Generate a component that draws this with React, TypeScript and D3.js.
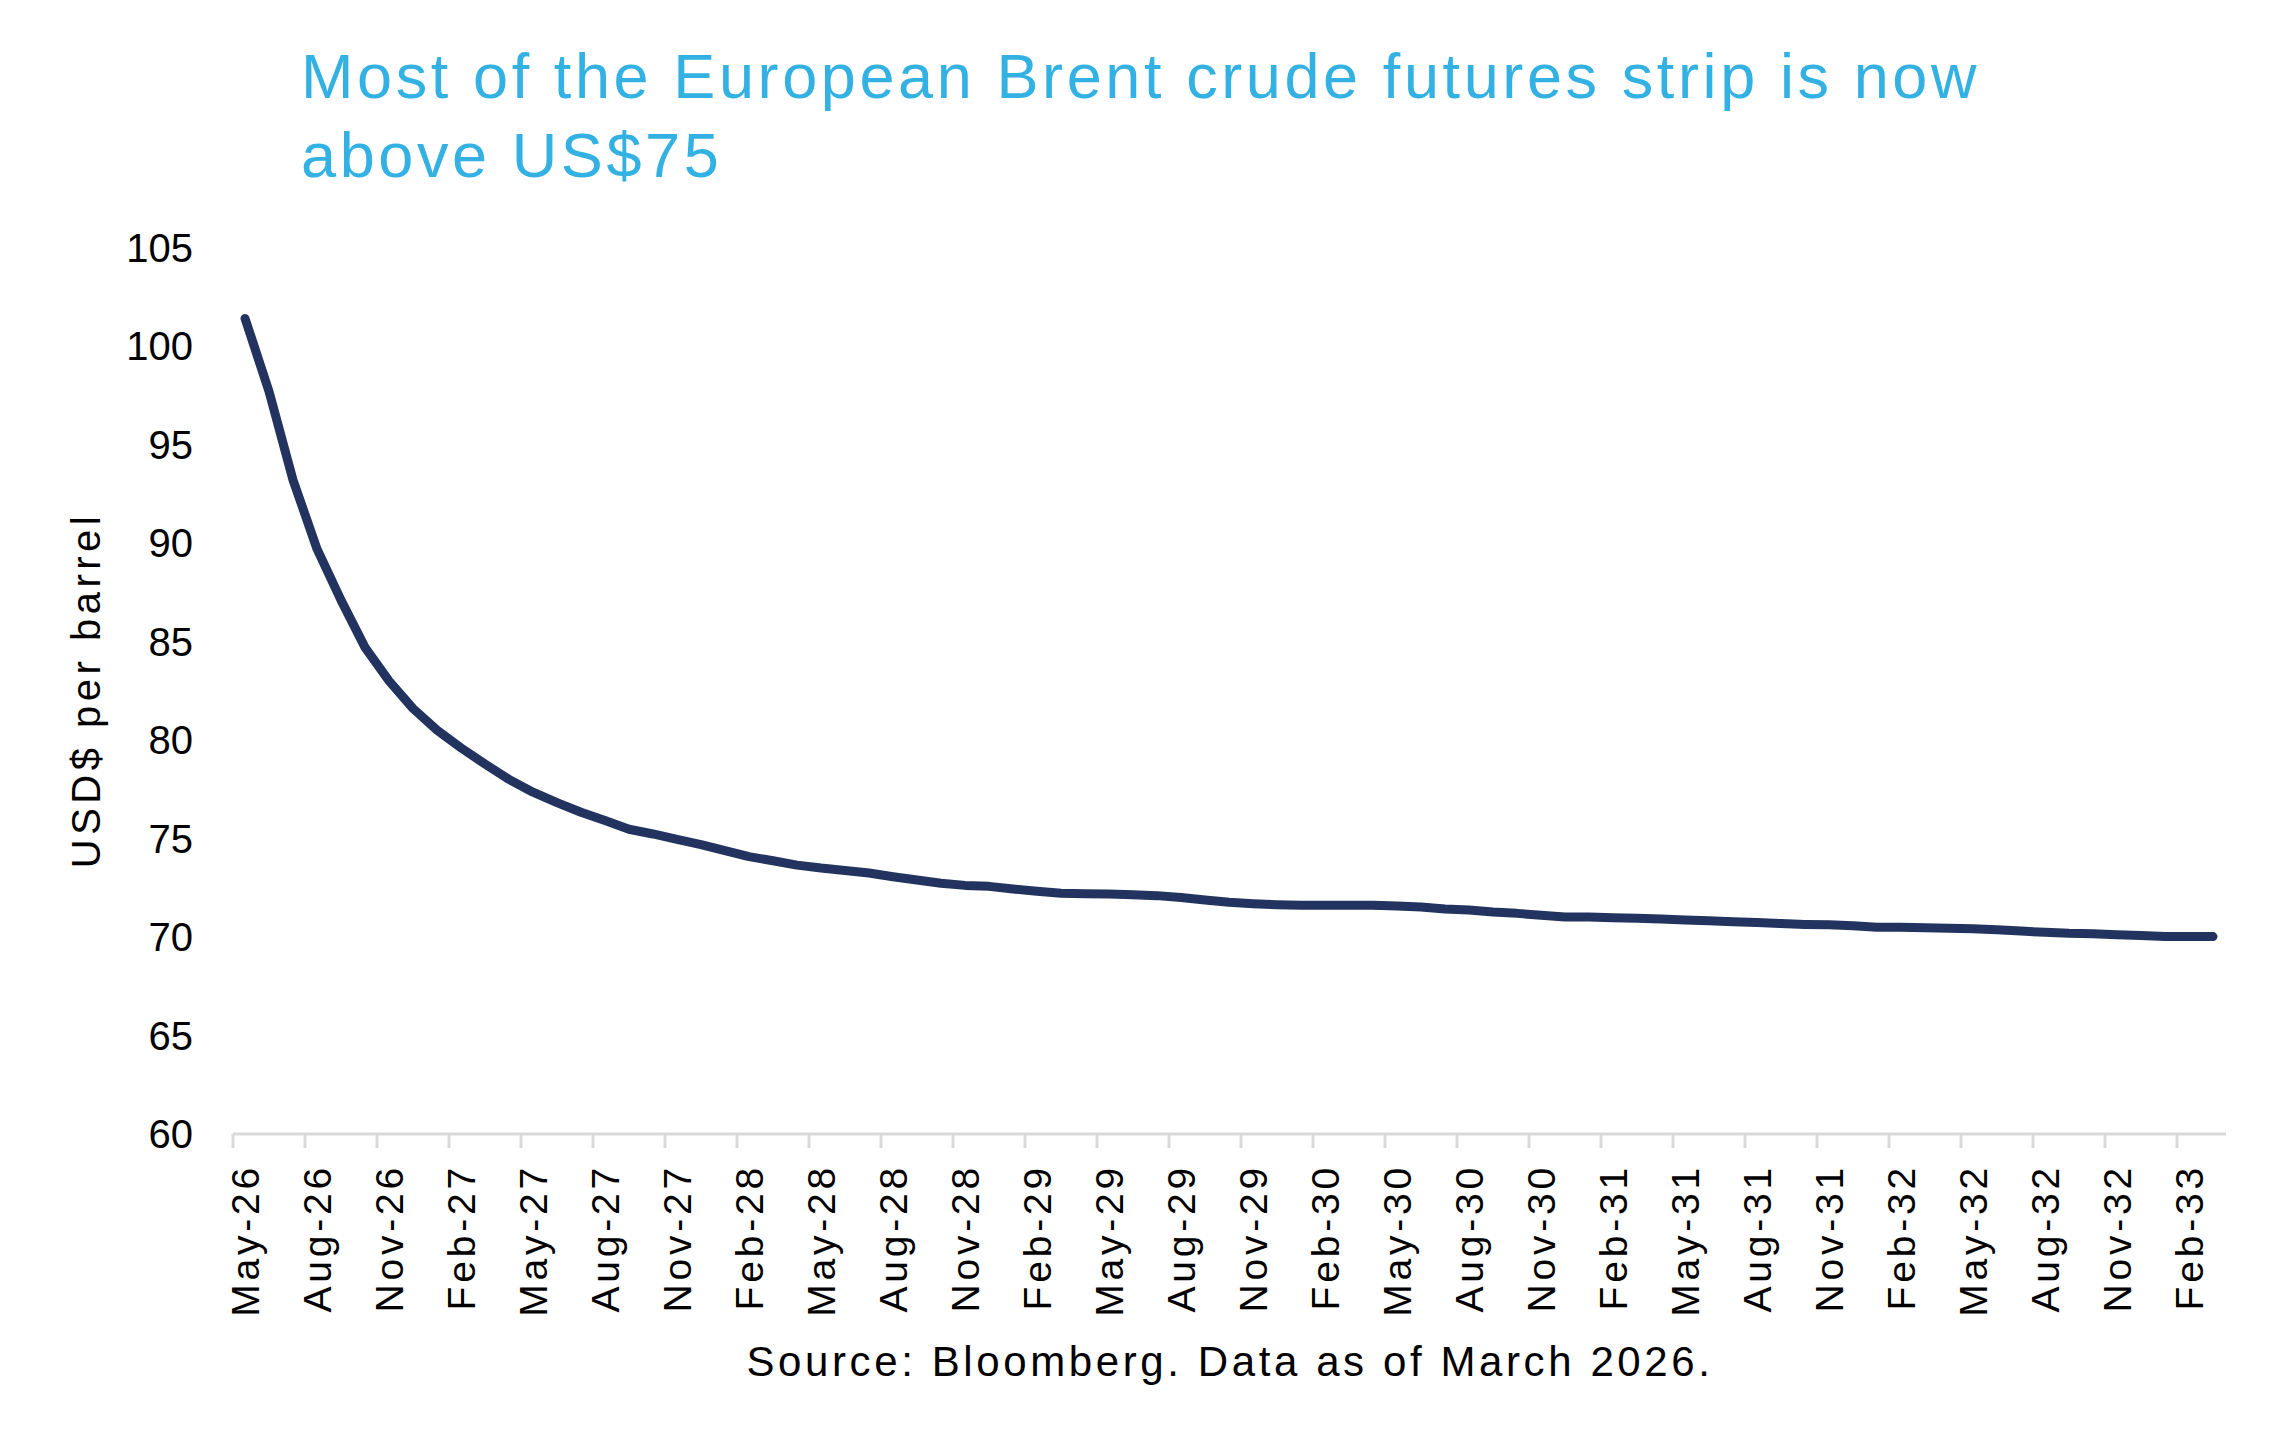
import * as d3 from 'd3'

// monthly contract months on the strip
const months = [
  'May-26','Jun-26','Jul-26','Aug-26','Sep-26','Oct-26','Nov-26','Dec-26',
  'Jan-27','Feb-27','Mar-27','Apr-27','May-27','Jun-27','Jul-27','Aug-27','Sep-27','Oct-27','Nov-27','Dec-27',
  'Jan-28','Feb-28','Mar-28','Apr-28','May-28','Jun-28','Jul-28','Aug-28','Sep-28','Oct-28','Nov-28','Dec-28',
  'Jan-29','Feb-29','Mar-29','Apr-29','May-29','Jun-29','Jul-29','Aug-29','Sep-29','Oct-29','Nov-29','Dec-29',
  'Jan-30','Feb-30','Mar-30','Apr-30','May-30','Jun-30','Jul-30','Aug-30','Sep-30','Oct-30','Nov-30','Dec-30',
  'Jan-31','Feb-31','Mar-31','Apr-31','May-31','Jun-31','Jul-31','Aug-31','Sep-31','Oct-31','Nov-31','Dec-31',
  'Jan-32','Feb-32','Mar-32','Apr-32','May-32','Jun-32','Jul-32','Aug-32','Sep-32','Oct-32','Nov-32','Dec-32',
  'Jan-33','Feb-33','Mar-33'
]

// Brent futures settle, USD per barrel
const brent = [
  101.4, 97.7, 93.2, 89.7, 87.1, 84.7, 83.0, 81.6,
  80.5, 79.6, 78.78, 78.0, 77.35, 76.82, 76.33, 75.91, 75.47, 75.23, 74.96, 74.69,
  74.38, 74.08, 73.87, 73.65, 73.5, 73.38, 73.25, 73.06, 72.89, 72.73, 72.62, 72.57,
  72.44, 72.32, 72.22, 72.2, 72.18, 72.15, 72.1, 72.0, 71.88, 71.76, 71.69, 71.64,
  71.61, 71.61, 71.61, 71.61, 71.57, 71.52, 71.42, 71.37, 71.27, 71.2, 71.1, 71.02,
  71.02, 70.98, 70.95, 70.91, 70.86, 70.83, 70.78, 70.73, 70.68, 70.64, 70.62, 70.57,
  70.49, 70.49, 70.47, 70.44, 70.42, 70.37, 70.3, 70.24, 70.19, 70.17, 70.12, 70.07,
  70.02, 70.02, 70.02
]

const yTicks = [60, 65, 70, 75, 80, 85, 90, 95, 100, 105]
const titleLines = ['Most of the European Brent crude futures strip is now', 'above US$75']
const yLabel = 'USD$ per barrel'
const source = 'Source: Bloomberg. Data as of March 2026.'

const W = 2278
const H = 1447
const font = '"Liberation Sans", Arial, sans-serif'

export default function App() {
  const x = d3.scaleBand<string>().domain(months).range([233, 2225]).padding(0)
  const y = d3.scaleLinear().domain([60, 105]).range([1134, 247.5])
  const cx = (m: string) => (x(m) as number) + x.bandwidth() / 2

  const line = d3.line<number>()
    .x((d, i) => cx(months[i]))
    .y(d => y(d))

  const tickMonths = months.filter((m, i) => i % 3 === 0)

  return (
    <svg width={W} height={H} style={{ position: 'absolute', left: 0, top: 0, display: 'block', background: '#fff' }}>
      {titleLines.map((t, i) => (
        <text key={t} x={301} y={98 + i * 78.5} fill="#33B1E2" fontFamily={font} fontSize={63} letterSpacing={3.6}>{t}</text>
      ))}

      {yTicks.map(v => (
        <text key={v} x={193} y={y(v)} dy="0.35em" textAnchor="end" fontFamily={font} fontSize={40} fill="#000">{v}</text>
      ))}

      <text transform={`translate(100,${690}) rotate(-90)`} textAnchor="middle" fontFamily={font} fontSize={40} letterSpacing={4.5} fill="#000">{yLabel}</text>

      <line x1={233} x2={2226} y1={y(60)} y2={y(60)} stroke="#D9D9D9" strokeWidth={3} />
      {tickMonths.map(m => (
        <line key={m} x1={x(m)} x2={x(m)} y1={y(60)} y2={y(60) + 14} stroke="#D9D9D9" strokeWidth={3} />
      ))}
      {tickMonths.map(m => (
        <text key={m} transform={`translate(${cx(m)},1164) rotate(-90)`} dy="0.35em" textAnchor="end" fontFamily={font} fontSize={39} letterSpacing={3.8} fill="#000">{m}</text>
      ))}

      <path d={line(brent) as string} fill="none" stroke="#22335F" strokeWidth={9} strokeLinecap="round" strokeLinejoin="round" />

      <text x={1230} y={1376} textAnchor="middle" fontFamily={font} fontSize={42} letterSpacing={3.6} fill="#000">{source}</text>
    </svg>
  )
}
